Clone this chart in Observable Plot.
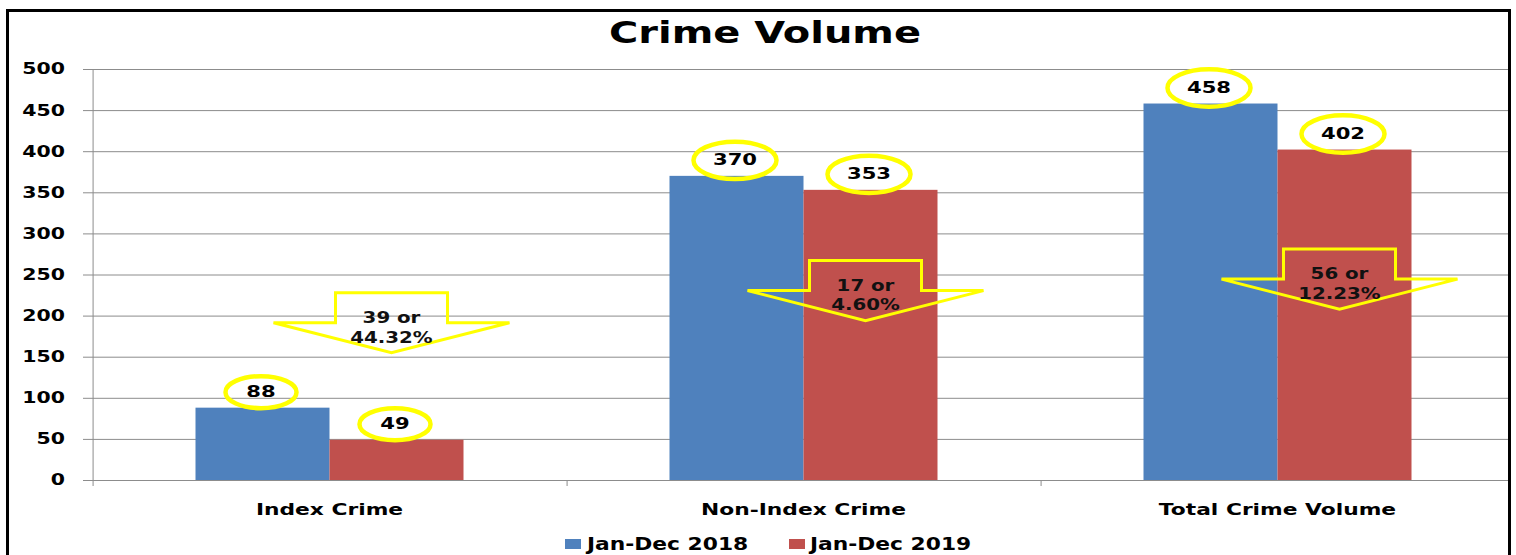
<!DOCTYPE html>
<html>
<head>
<meta charset="utf-8">
<script src="https://cdn.jsdelivr.net/npm/d3@7"></script>
<script src="https://cdn.jsdelivr.net/npm/@observablehq/plot@0.6"></script>
<style>
  html, body { margin: 0; padding: 0; background: #fff; }
  body { width: 1516px; height: 555px; overflow: hidden; position: relative; font-family: "DejaVu Sans", sans-serif; }
  #frame { position: absolute; left: 6px; top: 9px; width: 1499px; height: 560px; border: 3px solid #000; overflow: hidden; background: #fff; }
  #page { position: absolute; left: -9px; top: -12px; width: 1516px; height: 555px; }
  #title { position: absolute; left: 764.5px; top: 18px; font-size: 30px; line-height: 30px; font-weight: bold; white-space: nowrap; color: #000;
           transform: translateX(-50%) scaleX(1.33); transform-origin: center; }
  .sw { position: absolute; width: 16px; height: 10px; top: 538.5px; }
  .lt { position: absolute; top: 535.6px; font-size: 17px; line-height: 17px; font-weight: bold; white-space: nowrap; color: #000;
        transform: scaleX(1.28); transform-origin: left center; }
  #chart { position: absolute; left: 0; top: 55px; }
</style>
</head>
<body>
<div id="frame"><div id="page">
  <div id="title"></div>
  <div id="chart"></div>
  <div id="legend"></div>
</div></div>
<script>
// ---- data ----
const categories = ["Index Crime", "Non-Index Crime", "Total Crime Volume"];
const series = ["Jan-Dec 2018", "Jan-Dec 2019"];
const values2018 = [88, 370, 458];
const values2019 = [49, 353, 402];
const changeCount = ["39", "17", "56"];
const changePct = ["44.32%", "4.60%", "12.23%"];
const arrowLevel = [192, 231, 245];   // value level at which each decrease callout sits
const yTicks = [0, 50, 100, 150, 200, 250, 300, 350, 400, 450, 500];
const seriesColors = ["#4F81BD", "#C0504D"];
const titleText = "Crime Volume";

// ---- derived tables ----
const bars = categories.flatMap((c, i) => [
  {category: c, series: series[0], value: values2018[i]},
  {category: c, series: series[1], value: values2019[i]}
]);
const arrows = categories.map((c, i) => ({
  category: c, series: series[1], level: arrowLevel[i],
  label: `${changeCount[i]} or\n${changePct[i]}`
}));
const boundaries = categories.map((c, i) => ({category: c, top: i === 0 ? yTicks[yTicks.length - 1] : 0}));

// ---- layout constants ----
const W = 1516, H = 470, mL = 90.5, mR = 1, mT = 14, mB = 45;
const xPadOuter = 0.7587;
const facetW = (W - mL - mR) / categories.length;
const innerStep = facetW / (series.length + 2 * xPadOuter);
const edgeDx = -(innerStep / 2 + xPadOuter * innerStep);
const grid = "#8c8c8c";
const yellow = "#FFFF00";
const S = 1.32; // horizontal stretch of the lettering

function ellipseSymbol(ratio) {
  return {
    draw(ctx, size) {
      const ry = Math.sqrt(size / Math.PI), rx = ry * ratio, k = 0.5523;
      ctx.moveTo(rx, 0);
      ctx.bezierCurveTo(rx, k * ry, k * rx, ry, 0, ry);
      ctx.bezierCurveTo(-k * rx, ry, -rx, k * ry, -rx, 0);
      ctx.bezierCurveTo(-rx, -k * ry, -k * rx, -ry, 0, -ry);
      ctx.bezierCurveTo(k * rx, -ry, rx, -k * ry, rx, 0);
      ctx.closePath();
    }
  };
}
const arrowSymbol = {
  draw(ctx) {
    ctx.moveTo(-56, -30); ctx.lineTo(56, -30); ctx.lineTo(56, 0); ctx.lineTo(118, 0);
    ctx.lineTo(0, 30); ctx.lineTo(-118, 0); ctx.lineTo(-56, 0); ctx.closePath();
  }
};
const ell = ellipseSymbol(2.22);

const chart = Plot.plot({
  width: W, height: H,
  marginLeft: mL, marginRight: mR, marginTop: mT, marginBottom: mB,
  style: {fontFamily: "DejaVu Sans", background: "transparent", overflow: "visible"},
  fx: {domain: categories, padding: 0, label: null},
  x: {domain: series, paddingInner: 0, paddingOuter: xPadOuter, axis: null},
  y: {domain: [0, 500]},
  color: {domain: series, range: seriesColors},
  marks: [
    Plot.gridY(yTicks, {stroke: grid, strokeOpacity: 1, strokeWidth: 1}),
    Plot.axisY(yTicks, {tickSize: 9, tickPadding: 18.5, stroke: grid, strokeOpacity: 1, fill: "#000", fontSize: 15.5, fontWeight: "bold", label: null}),
    Plot.ruleX(boundaries, {fx: "category", x: () => series[0], dx: edgeDx, y1: "top", y2: -7.3, stroke: grid, strokeWidth: 1}),
    Plot.barY(bars, {fx: "category", x: "series", y: "value", fill: "series"}),
    Plot.dot(bars.filter(d => String(d.value).length < 3), {fx: "category", x: "series", y: "value", dy: -16, dx: -2, r: 16, symbol: ell, fill: "none", stroke: yellow, strokeWidth: 4.5}),
    Plot.dot(bars.filter(d => String(d.value).length >= 3), {fx: "category", x: "series", y: "value", dy: -16, dx: -2, r: 18.7, symbol: ell, fill: "none", stroke: yellow, strokeWidth: 4.5}),
    Plot.text(bars, {fx: "category", x: "series", y: "value", dy: -16, dx: -2, text: d => String(d.value), fontSize: 16, fontWeight: "bold", fill: "#000"}),
    Plot.dot(arrows, {fx: "category", x: "series", y: "level", dx: -5.5, r: 10, symbol: arrowSymbol, fill: "none", stroke: yellow, strokeWidth: 3}),
    Plot.text(arrows, {fx: "category", x: "series", y: "level", dx: -5.5, dy: 3.5, text: "label", fontSize: 15, lineHeight: 1.33, fontWeight: "bold", fill: "#111"}),
    Plot.axisFx({anchor: "bottom", tickSize: 0, tickPadding: 22.7, fontSize: 16.5, fontWeight: "bold", fill: "#000", label: null})
  ]
});

document.getElementById("chart").appendChild(chart);
document.getElementById("title").textContent = titleText;

// stretch lettering horizontally around each label's anchor
chart.querySelectorAll("text").forEach(t => {
  const b = t.getBBox();
  const anchor = getComputedStyle(t).textAnchor;
  const px = anchor === "end" ? b.x + b.width : anchor === "middle" ? b.x + b.width / 2 : b.x;
  const prev = t.getAttribute("transform") || "";
  t.setAttribute("transform", `${prev} translate(${px},0) scale(${S},1) translate(${-px},0)`);
});

// legend
const legend = document.getElementById("legend");
const legendSwatchX = [565, 789], legendTextX = [587, 810];
series.forEach((s, i) => {
  const sw = document.createElement("div");
  sw.className = "sw"; sw.style.left = legendSwatchX[i] + "px"; sw.style.background = seriesColors[i];
  const lt = document.createElement("div");
  lt.className = "lt"; lt.style.left = legendTextX[i] + "px"; lt.textContent = s;
  legend.appendChild(sw); legend.appendChild(lt);
});
</script>
</body>
</html>
